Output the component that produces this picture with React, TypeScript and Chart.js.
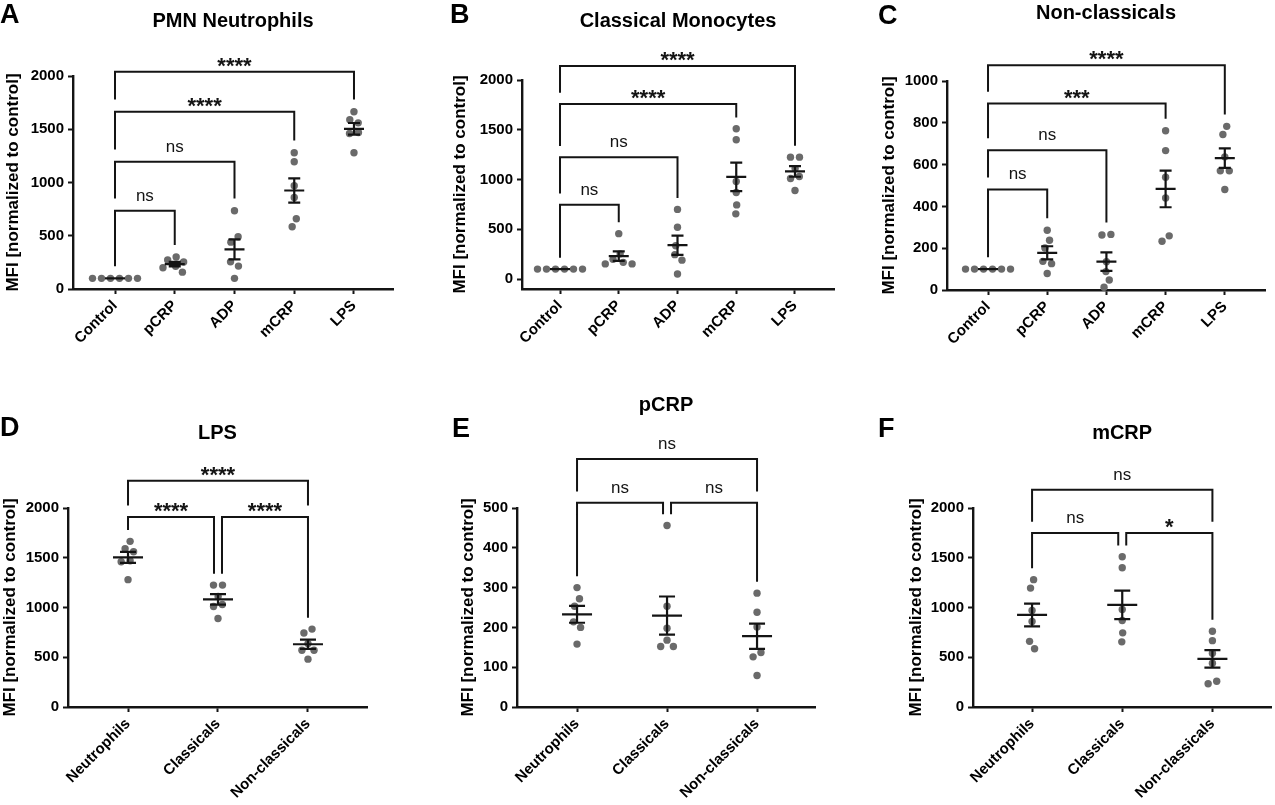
import { useEffect, useRef } from "react";
import { Chart, registerables } from "chart.js";

Chart.register(...registerables);

const FONT = "'Liberation Sans', Arial, Helvetica, sans-serif";
const INK = "#141414";
const DOT = "#6a6a6a";

// categories
const treatments = ["Control", "pCRP", "ADP", "mCRP", "LPS"];
const cellTypes = ["Neutrophils", "Classicals", "Non-classicals"];

// y ticks
const ticks2000 = [0, 500, 1000, 1500, 2000];
const ticks1000 = [0, 200, 400, 600, 800, 1000];
const ticks500 = [0, 100, 200, 300, 400, 500];

// PMN neutrophils (MFI normalized to control), one value per donor
const pmnControl = [100, 100, 100, 100, 100, 100];
const pmnPcrp = [300, 272, 253, 214, 200, 158];
const pmnAdp = [735, 490, 440, 255, 215, 100];
const pmnMcrp = [1280, 1195, 970, 860, 660, 585];
const pmnLps = [1665, 1590, 1560, 1470, 1460, 1280];

// classical monocytes
const clmControl = [100, 100, 100, 100, 100, 100];
const clmPcrp = [456, 253, 198, 168, 152, 152];
const clmAdp = [700, 520, 335, 245, 190, 50];
const clmMcrp = [1510, 1400, 980, 870, 745, 655];
const clmLps = [1225, 1225, 1110, 1030, 1010, 890];

// non-classical monocytes
const ncmControl = [100, 100, 100, 100, 100, 100];
const ncmPcrp = [286, 238, 201, 137, 126, 79];
const ncmAdp = [266, 263, 135, 88, 48, 13];
const ncmMcrp = [762, 667, 540, 440, 259, 233];
const ncmLps = [783, 744, 637, 570, 570, 481];

// significance brackets (level = height of the bar in MFI units)
const pmnBrackets = [
  { from: 0, to: 1, label: "ns", level: 735 },
  { from: 0, to: 2, label: "ns", level: 1195 },
  { from: 0, to: 3, label: "****", level: 1665 },
  { from: 0, to: 4, label: "****", level: 2040 },
];
const clmBrackets = [
  { from: 0, to: 1, label: "ns", level: 746 },
  { from: 0, to: 2, label: "ns", level: 1224 },
  { from: 0, to: 3, label: "****", level: 1759 },
  { from: 0, to: 4, label: "****", level: 2140 },
];
const ncmBrackets = [
  { from: 0, to: 1, label: "ns", level: 481 },
  { from: 0, to: 2, label: "ns", level: 669 },
  { from: 0, to: 3, label: "***", level: 892 },
  { from: 0, to: 4, label: "****", level: 1075 },
];
const lpsBrackets = [
  { from: 0, to: 1, label: "****", level: 1910 },
  { from: 1, to: 2, label: "****", level: 1910 },
  { from: 0, to: 2, label: "****", level: 2275 },
];
const pcrpBrackets = [
  { from: 0, to: 1, label: "ns", level: 513 },
  { from: 1, to: 2, label: "ns", level: 513 },
  { from: 0, to: 2, label: "ns", level: 623 },
];
const mcrpBrackets = [
  { from: 0, to: 1, label: "ns", level: 1749 },
  { from: 1, to: 2, label: "*", level: 1749 },
  { from: 0, to: 2, label: "ns", level: 2184 },
];

type Bracket = { from: number; to: number; label: string; level: number };
type Spec = {
  letter: string;
  title: string;
  labels: string[];
  groups: number[][];
  yMin: number;
  yMax: number;
  yTicks: number[];
  brackets: Bracket[];
  box: { x: number; y: number; w: number; h: number };
  area: { left: number; top: number; right: number; bottom: number };
  xMin: number;
  xMax: number;
  letterPos: [number, number];
  titleY: number;
  yTitleX: number;
  meanHalf: number;
  capHalf: number;
};

const panels: Spec[] = [
  {
    letter: "A", title: "PMN Neutrophils", labels: treatments,
    groups: [pmnControl, pmnPcrp, pmnAdp, pmnMcrp, pmnLps],
    yMin: 0, yMax: 2000, yTicks: ticks2000, brackets: pmnBrackets,
    box: { x: 0, y: 0, w: 425, h: 400 },
    area: { left: 73, top: 76, right: 393, bottom: 289 },
    xMin: -0.703, xMax: 4.653, letterPos: [0, 16], titleY: 21, yTitleX: 13,
    meanHalf: 10, capHalf: 6,
  },
  {
    letter: "B", title: "Classical Monocytes", labels: treatments,
    groups: [clmControl, clmPcrp, clmAdp, clmMcrp, clmLps],
    yMin: -100, yMax: 2000, yTicks: ticks2000, brackets: clmBrackets,
    box: { x: 425, y: 0, w: 425, h: 400 },
    area: { left: 97, top: 80, right: 409, bottom: 289 },
    xMin: -0.647, xMax: 4.664, letterPos: [25, 16], titleY: 21, yTitleX: 35,
    meanHalf: 10, capHalf: 6,
  },
  {
    letter: "C", title: "Non-classicals", labels: treatments,
    groups: [ncmControl, ncmPcrp, ncmAdp, ncmMcrp, ncmLps],
    yMin: 0, yMax: 1000, yTicks: ticks1000, brackets: ncmBrackets,
    box: { x: 850, y: 0, w: 425, h: 400 },
    area: { left: 97, top: 81, right: 415, bottom: 290 },
    xMin: -0.693, xMax: 4.679, letterPos: [28, 17], titleY: 13, yTitleX: 39,
    meanHalf: 10, capHalf: 6,
  },
  {
    letter: "D", title: "LPS", labels: cellTypes,
    groups: [pmnLps, clmLps, ncmLps],
    yMin: 0, yMax: 2000, yTicks: ticks2000, brackets: lpsBrackets,
    box: { x: 0, y: 395, w: 425, h: 410 },
    area: { left: 68, top: 113, right: 367, bottom: 312 },
    xMin: -0.667, xMax: 2.656, letterPos: [0, 34], titleY: 38, yTitleX: 10,
    meanHalf: 15, capHalf: 8,
  },
  {
    letter: "E", title: "pCRP", labels: cellTypes,
    groups: [pmnPcrp, clmPcrp, ncmPcrp],
    yMin: 0, yMax: 500, yTicks: ticks500, brackets: pcrpBrackets,
    box: { x: 425, y: 395, w: 425, h: 410 },
    area: { left: 92, top: 113, right: 390, bottom: 312 },
    xMin: -0.667, xMax: 2.644, letterPos: [27, 35], titleY: 10, yTitleX: 43,
    meanHalf: 15, capHalf: 8,
  },
  {
    letter: "F", title: "mCRP", labels: cellTypes,
    groups: [pmnMcrp, clmMcrp, ncmMcrp],
    yMin: 0, yMax: 2000, yTicks: ticks2000, brackets: mcrpBrackets,
    box: { x: 850, y: 395, w: 425, h: 410 },
    area: { left: 123, top: 113, right: 423, bottom: 312 },
    xMin: -0.655, xMax: 2.653, letterPos: [28, 35], titleY: 38, yTitleX: 66,
    meanHalf: 15, capHalf: 8,
  },
];

const mean = (v: number[]) => v.reduce((a, b) => a + b, 0) / v.length;
const sem = (v: number[]) => {
  const m = mean(v);
  const ss = v.reduce((a, b) => a + (b - m) * (b - m), 0);
  return Math.sqrt(ss / (v.length - 1)) / Math.sqrt(v.length);
};

// simple beeswarm: horizontal pixel offsets so that dots don't overlap
function swarm(values: number[], pxPerUnit: number, d: number): number[] {
  const order = values.map((_, i) => i).sort((a, b) => values[b] - values[a]);
  const placed: { x: number; y: number }[] = [];
  const xs = new Array(values.length).fill(0);
  let flip = 1;
  for (const i of order) {
    const y = values[i] * pxPerUnit;
    const near = placed.filter((p) => Math.abs(p.y - y) < d);
    const cands = [0];
    near.forEach((p) => {
      const w = Math.sqrt(d * d - (p.y - y) * (p.y - y));
      cands.push(p.x - w, p.x + w);
    });
    const ok = cands.filter((c) =>
      near.every((p) => Math.hypot(p.x - c, p.y - y) >= d - 1e-6)
    );
    ok.sort((a, b) => Math.abs(a) - Math.abs(b) || (a - b) * flip);
    xs[i] = ok[0];
    if (ok[0] !== 0) flip = -flip;
    placed.push({ x: ok[0], y });
  }
  // centre each cluster of touching dots
  const ys = values.map((v) => v * pxPerUnit);
  const seen = new Array(values.length).fill(false);
  for (let i = 0; i < values.length; i++) {
    if (seen[i]) continue;
    const stack = [i];
    const comp: number[] = [];
    seen[i] = true;
    while (stack.length) {
      const k = stack.pop() as number;
      comp.push(k);
      for (let j = 0; j < values.length; j++) {
        if (!seen[j] && Math.abs(ys[j] - ys[k]) < d) {
          seen[j] = true;
          stack.push(j);
        }
      }
    }
    if (comp.length > 1) {
      const mx = comp.reduce((a, k) => a + xs[k], 0) / comp.length;
      comp.forEach((k) => (xs[k] -= mx));
    }
  }
  return xs;
}

function makeDecor(spec: Spec) {
  return {
    id: "decor" + spec.letter,
    afterDatasetsDraw(chart: any) {
      const { ctx, scales } = chart;
      const x = scales.x;
      const y = scales.y;
      ctx.save();
      ctx.strokeStyle = INK;
      ctx.lineWidth = 2.2;
      ctx.lineCap = "butt";
      ctx.lineJoin = "miter";

      // mean +/- SEM
      spec.groups.forEach((vals, gi) => {
        const m = mean(vals);
        const s = sem(vals);
        const cx = x.getPixelForValue(gi);
        const ym = y.getPixelForValue(m);
        const yh = y.getPixelForValue(m + s);
        const yl = y.getPixelForValue(m - s);
        ctx.beginPath();
        ctx.moveTo(cx - spec.meanHalf, ym);
        ctx.lineTo(cx + spec.meanHalf, ym);
        if (s > 0) {
          ctx.moveTo(cx, yh);
          ctx.lineTo(cx, yl);
          ctx.moveTo(cx - spec.capHalf, yh);
          ctx.lineTo(cx + spec.capHalf, yh);
          ctx.moveTo(cx - spec.capHalf, yl);
          ctx.lineTo(cx + spec.capHalf, yl);
        }
        ctx.stroke();
      });

      // brackets, legs drop to just above the data / lower brackets
      const gap = spec.yMax * 0.057;
      const groupMax = spec.groups.map((g) => Math.max(...g));
      const done: Bracket[] = [];
      ctx.lineWidth = 2;
      spec.brackets.forEach((b) => {
        const legBase = (g: number) => {
          let base = groupMax[g];
          done.forEach((p) => {
            if (p.level < b.level && p.from <= g && g <= p.to) base = Math.max(base, p.level);
          });
          return base + gap;
        };
        const shiftL = spec.brackets.some((o) => o !== b && o.to === b.from) ? 4 : 0;
        const shiftR = spec.brackets.some((o) => o !== b && o.from === b.to) ? -4 : 0;
        const xa = x.getPixelForValue(b.from) + shiftL;
        const xb = x.getPixelForValue(b.to) + shiftR;
        const yl = y.getPixelForValue(b.level);
        ctx.beginPath();
        ctx.moveTo(xa, y.getPixelForValue(legBase(b.from)));
        ctx.lineTo(xa, yl);
        ctx.lineTo(xb, yl);
        ctx.lineTo(xb, y.getPixelForValue(legBase(b.to)));
        ctx.stroke();
        done.push(b);

        ctx.fillStyle = INK;
        ctx.textAlign = "center";
        ctx.textBaseline = "alphabetic";
        if (b.label === "ns") {
          ctx.font = `17px ${FONT}`;
          ctx.fillText(b.label, (xa + xb) / 2, yl - 10);
        } else {
          ctx.font = `bold 22px ${FONT}`;
          ctx.fillText(b.label, (xa + xb) / 2, yl + 1);
        }
      });
      ctx.restore();
    },
    afterDraw(chart: any) {
      const { ctx, chartArea } = chart;
      ctx.save();
      ctx.fillStyle = "#000";
      ctx.textBaseline = "middle";
      ctx.textAlign = "left";
      ctx.font = `bold 27px ${FONT}`;
      ctx.fillText(spec.letter, spec.letterPos[0], spec.letterPos[1]);
      ctx.textAlign = "center";
      ctx.font = `bold 20px ${FONT}`;
      ctx.fillText(spec.title, (chartArea.left + chartArea.right) / 2, spec.titleY);
      ctx.translate(spec.yTitleX, (chartArea.top + chartArea.bottom) / 2);
      ctx.rotate(-Math.PI / 2);
      ctx.font = `bold 17px ${FONT}`;
      ctx.fillText("MFI [normalized to control]", 0, 0);
      ctx.restore();
    },
  };
}

function Panel({ spec }: { spec: Spec }) {
  const canvasRef = useRef<HTMLCanvasElement>(null);
  const chartRef = useRef<Chart | null>(null);

  useEffect(() => {
    if (!canvasRef.current) return;
    if (chartRef.current) chartRef.current.destroy();
    const { area, box } = spec;
    const pxPerUnit = (area.bottom - area.top) / (spec.yMax - spec.yMin);
    const pxPerCat = (area.right - area.left) / (spec.xMax - spec.xMin);
    const points = spec.groups.flatMap((vals, gi) => {
      const offs = swarm(vals, pxPerUnit, 9);
      return vals.map((v, k) => ({ x: gi + offs[k] / pxPerCat, y: v }));
    });
    const grid = {
      display: true,
      drawOnChartArea: false,
      drawTicks: true,
      tickLength: 5,
      tickWidth: 2,
      tickColor: INK,
    };
    const border = { display: true, color: INK, width: 2.4 };
    const tickFont = { family: FONT, size: 15, weight: "bold" as const };

    chartRef.current = new Chart(canvasRef.current, {
      type: "scatter",
      data: {
        datasets: [
          {
            data: points,
            pointRadius: 3.7,
            pointHoverRadius: 3.7,
            pointBackgroundColor: DOT,
            pointBorderWidth: 0,
            clip: false as any,
          },
        ],
      },
      options: {
        responsive: false,
        maintainAspectRatio: false,
        animation: false,
        events: [],
        layout: {
          padding: { left: 0, top: area.top, right: box.w - area.right, bottom: 0 },
        },
        plugins: {
          legend: { display: false },
          tooltip: { enabled: false },
          title: { display: false },
        },
        scales: {
          x: {
            type: "linear",
            min: spec.xMin,
            max: spec.xMax,
            afterFit: (s: any) => {
              s.height = box.h - area.bottom;
              s.paddingLeft = 0;
              s.paddingRight = 0;
            },
            afterBuildTicks: (s: any) => {
              s.ticks = spec.labels.map((_, i) => ({ value: i }));
            },
            ticks: {
              autoSkip: false,
              minRotation: 45,
              maxRotation: 45,
              padding: 3,
              color: "#000",
              font: tickFont,
              callback: (v: any) => spec.labels[Math.round(Number(v))] ?? "",
            },
            grid,
            border,
          },
          y: {
            type: "linear",
            min: spec.yMin,
            max: spec.yMax,
            afterFit: (s: any) => {
              s.width = area.left;
              s.paddingTop = 0;
              s.paddingBottom = 0;
            },
            afterBuildTicks: (s: any) => {
              s.ticks = spec.yTicks.map((v) => ({ value: v }));
            },
            ticks: {
              padding: 4,
              color: "#000",
              font: tickFont,
              callback: (v: any) => String(v),
            },
            grid,
            border,
          },
        },
      },
      plugins: [makeDecor(spec)],
    });

    return () => {
      if (chartRef.current) {
        chartRef.current.destroy();
        chartRef.current = null;
      }
    };
  }, [spec]);

  return (
    <canvas
      ref={canvasRef}
      width={spec.box.w}
      height={spec.box.h}
      style={{
        position: "absolute",
        left: spec.box.x,
        top: spec.box.y,
        width: spec.box.w,
        height: spec.box.h,
      }}
    />
  );
}

export default function App() {
  return (
    <div
      style={{
        position: "fixed",
        left: 0,
        top: 0,
        width: 1275,
        height: 805,
        background: "#fff",
        overflow: "hidden",
      }}
    >
      {panels.map((p) => (
        <Panel key={p.letter} spec={p} />
      ))}
    </div>
  );
}
